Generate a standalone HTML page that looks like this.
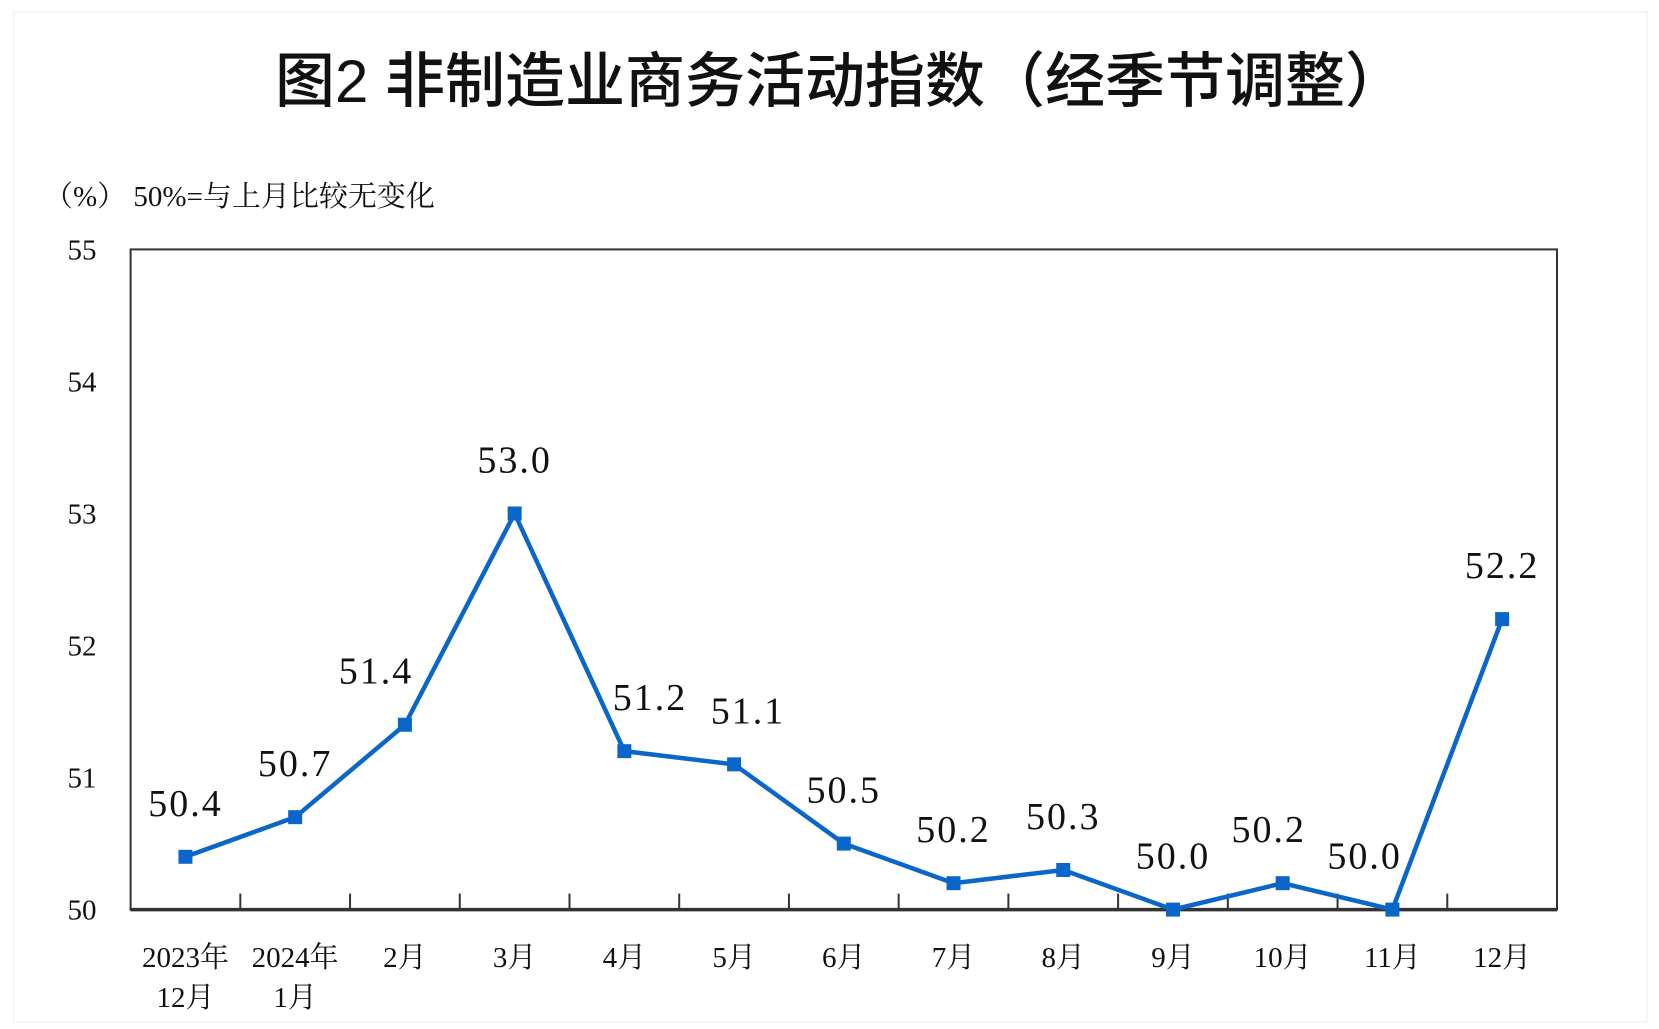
<!DOCTYPE html>
<html><head><meta charset="utf-8"><style>
html,body{margin:0;padding:0;background:#fff;}
svg{display:block;}
.t{font-family:"Liberation Serif","Noto Serif CJK SC",serif;fill:#111;}
</style></head><body>
<svg id="chart" width="1659" height="1029" viewBox="0 0 1659 1029" xmlns="http://www.w3.org/2000/svg">
<rect x="0" y="0" width="1659" height="1029" fill="#fff"/>
<rect x="14" y="12" width="1633" height="1010" fill="none" stroke="#f3f8f2" stroke-width="2"/>
<text x="840" y="102" text-anchor="middle" font-family="'Liberation Sans','Noto Sans CJK SC',sans-serif" font-size="60" font-weight="500" fill="#111">图2  非制造业商务活动指数（经季节调整）</text>
<text class="t" x="44" y="206" font-size="29">（%） 50%=与上月比较无变化</text>
<g id="axes"></g>
<g id="marks"></g>
</svg>
<script>
const categories = ["2023年|12月","2024年|1月","2月","3月","4月","5月","6月","7月","8月","9月","10月","11月","12月"];
const values = [50.4,50.7,51.4,53.0,51.2,51.1,50.5,50.2,50.3,50.0,50.2,50.0,52.2];
const yTicks = [50,51,52,53,54,55];
const labelDx = [0,0,-27,0,24,13,0,0,0,0,-13,-26,0];

const NS="http://www.w3.org/2000/svg";
const L=130.6,R=1557,T=249.4,B=909.6,ymin=50,ymax=55;
const band=(R-L)/categories.length;
const xs=i=>L+band*(i+0.5);
const ys=v=>B-(v-ymin)/(ymax-ymin)*(B-T);
function mk(tag,attrs,parent){const e=document.createElementNS(NS,tag);for(const k in attrs)e.setAttribute(k,attrs[k]);parent.appendChild(e);return e;}
const axes=document.getElementById('axes'),marks=document.getElementById('marks');

const frame=mk('rect',{x:L,y:T,width:R-L,height:B-T,fill:'none',stroke:'#333','stroke-width':2},axes);


const xa=mk('line',{x1:L,y1:B,x2:R,y2:B,stroke:'#333','stroke-width':3.5},axes);



yTicks.forEach(v=>{
  const t=mk('text',{x:82,y:ys(v)+10,'text-anchor':'middle','font-size':29,class:'t'},axes);
  t.textContent=v;
  
  
});
for(let i=1;i<categories.length;i++){
  const x=L+band*i;
  const tk=mk('line',{x1:x,y1:B,x2:x,y2:B-16,stroke:'#333','stroke-width':2},axes);
  
  
}
categories.forEach((c,i)=>{
  c.split('|').forEach((part,j)=>{
    const t=mk('text',{x:xs(i),y:967+j*40,'text-anchor':'middle','font-size':29,class:'t'},axes);
    t.textContent=part;
    
    
  });
});

const pts=values.map((v,i)=>xs(i)+','+ys(v)).join(' ');
const line=mk('polyline',{points:pts,fill:'none',stroke:'#0a66c8','stroke-width':4.5,'stroke-linejoin':'miter'},marks);


values.forEach((v,i)=>{
  const s=mk('rect',{x:xs(i)-7,y:ys(v)-7,width:14,height:14,fill:'#0a66c8'},marks);
  
  
  const t=mk('text',{x:xs(i)+labelDx[i]*1.07,y:ys(v)-41,'text-anchor':'middle','font-size':38,'letter-spacing':'2',class:'t'},marks);
  t.textContent=v.toFixed(1);
  
  
});
</script>
</body></html>
